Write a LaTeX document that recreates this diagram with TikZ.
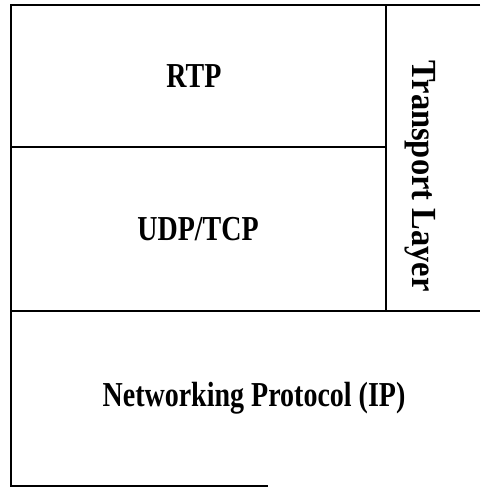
\documentclass[tikz,border=0pt]{standalone}
\usepackage{fontspec}
\setmainfont{Liberation Serif}
\usetikzlibrary{positioning}

\begin{document}
\begin{tikzpicture}[
    x=1pt, y=-1pt, line width=1.2pt,
    layer/.style={
      font=\bfseries\fontsize{28}{32}\selectfont,
      inner sep=0pt, anchor=base},
    side/.style={layer, rotate=-90},
]
\useasboundingbox (0,0) rectangle (480,488);

% ---- frame and layer boundaries ----
\draw (480,5) -- (11,5) -- (11,486) -- (268,486);
\draw (11,311) -- (480,311);
\draw (386,5) -- (386,311);
\draw (11,147) -- (386,147);

% ---- layer names ----
\node[layer] (rtp) at (194,87)  {\scalebox{1}[1.25]{RTP}};
\node[layer] (udp) at (198,240) {\scalebox{1}[1.25]{UDP/TCP}};
\node[layer] (ip)  at (254,406) {\scalebox{1}[1.25]{Networking Protocol (IP)}};
\node[side]  (tl)  at (412,176) {\scalebox{1.16}[1.26]{Transport Layer}};

\end{tikzpicture}
\end{document}
